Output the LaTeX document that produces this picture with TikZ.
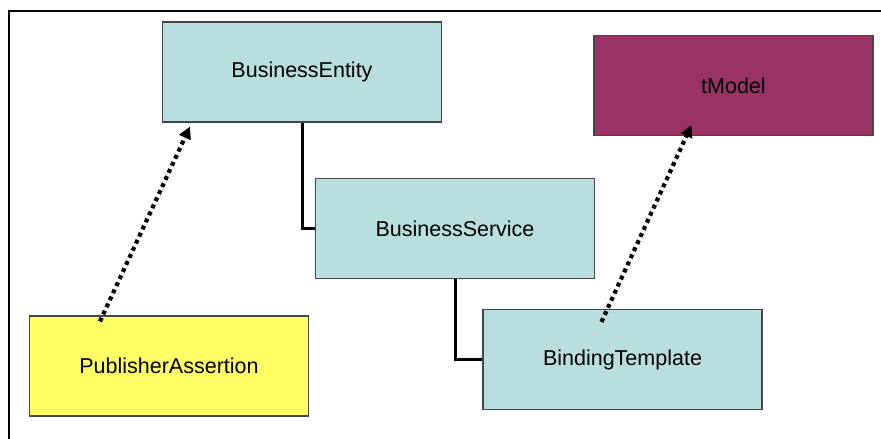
\documentclass[tikz,border=0pt]{standalone}
\usepackage{fontspec}
\setmainfont{Liberation Sans}
\usetikzlibrary{arrows.meta}

\definecolor{entityblue}{RGB}{184,222,224}
\definecolor{modelred}{RGB}{153,51,102}
\definecolor{assertyellow}{RGB}{255,255,102}
\definecolor{boxedge}{RGB}{70,70,70}

\tikzset{
  udbox/.style={draw=boxedge, line width=1.1pt, minimum width=279pt,
    minimum height=100pt, inner sep=0pt, font=\fontsize{21.5}{24}\selectfont},
  bluebox/.style={udbox, fill=entityblue},
  link/.style={draw=black, line width=3pt},
  refarrow/.style={draw=black, line width=4.2pt, dash pattern=on 4pt off 3.8pt,
    -{Triangle[length=12pt,width=12pt]}}
}

\begin{document}
\begin{tikzpicture}[x=1pt, y=-1pt]
  \useasboundingbox (0,0) rectangle (881,439);
  \clip (0,0) rectangle (881,439);

  % frame around the diagram
  \draw[line width=1.6pt] (9,460) -- (9,11) -- (900,11);

  % entities
  \node[bluebox] (be) at (302,72) {BusinessEntity};
  \node[bluebox] (bs) at (455,228.5) {BusinessService};
  \node[bluebox] (bt) at (622.5,359.5) {BindingTemplate};
  \node[udbox, fill=modelred] (tm) at (733.5,85.5) {tModel};
  \node[udbox, fill=assertyellow] (pa) at (169,366) {PublisherAssertion};

  % containment links
  \draw[link] (be.south) |- (bs.west);
  \draw[link] (bs.south) |- (bt.west);

  % references
  \draw[refarrow] ([xshift=71pt,yshift=-6pt]pa.north west)
    -- ([xshift=28pt,yshift=-4pt]be.south west);
  \draw[refarrow] ([xshift=119pt,yshift=-13pt]bt.north west)
    -- ([xshift=98pt,yshift=11pt]tm.south west);
\end{tikzpicture}
\end{document}
